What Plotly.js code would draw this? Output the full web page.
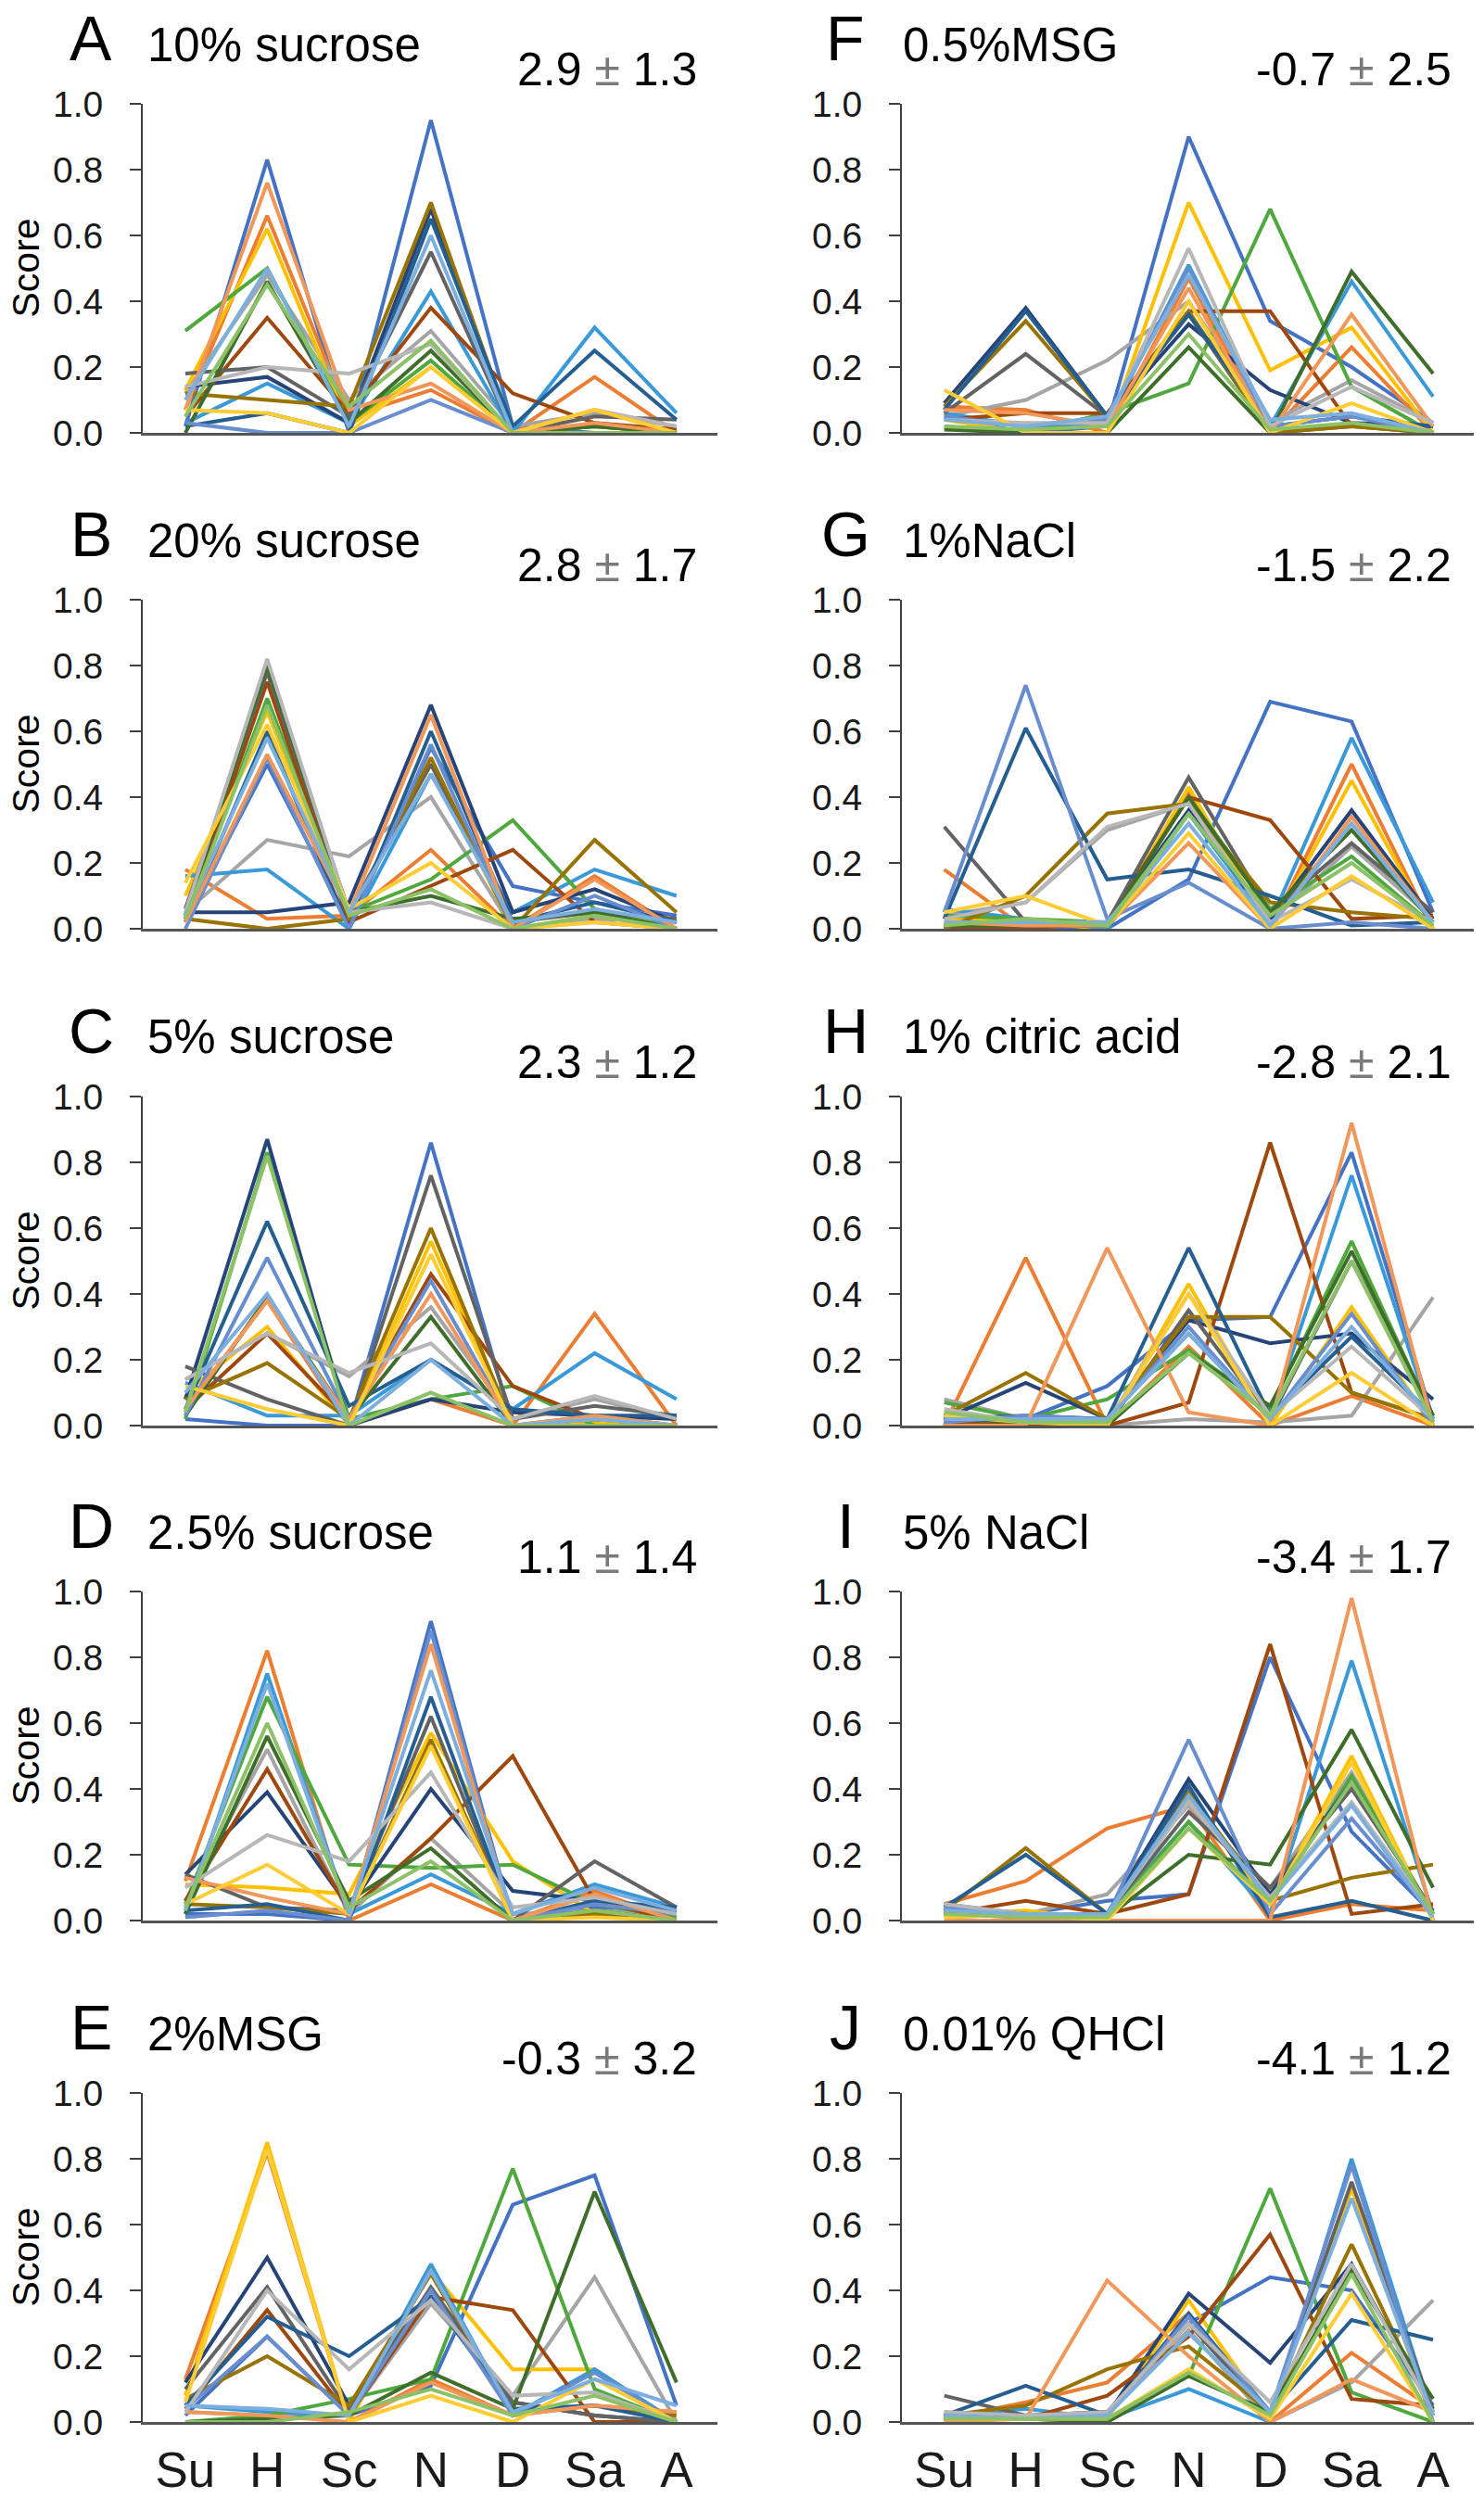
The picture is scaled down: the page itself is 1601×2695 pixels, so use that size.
<!DOCTYPE html>
<html><head><meta charset="utf-8">
<script src="https://cdn.plot.ly/plotly-3.0.1.min.js"></script>
<style>html,body{margin:0;padding:0;background:#fff}#chart{width:1601px;height:2695px}</style>
</head><body><div id="chart"></div>
<script>
const categories = ['Su','H','Sc','N','D','Sa','A'];
const panelLetters = ['A','B','C','D','E','F','G','H','I','J'];
const panelTitles = ['10% sucrose','20% sucrose','5% sucrose','2.5% sucrose','2%MSG','0.5%MSG','1%NaCl','1% citric acid','5% NaCl','0.01% QHCl'];
const panelMeans = ['2.9','2.8','2.3','1.1','-0.3','-0.7','-1.5','-2.8','-3.4','-4.1'];
const panelSDs = ['1.3','1.7','1.2','1.4','3.2','2.5','2.2','2.1','1.7','1.2'];
const seriesColors = ['#4472C4','#ED7D31','#A5A5A5','#FFC000','#3A9AD9','#4FA83D','#264478','#9E480E','#636363','#997300','#255E91','#3F6E2A','#698ED0','#F1975A','#B7B7B7','#FFCD33','#7CAFDD','#8CC168'];

const panelA = [
[0.02,0.83,0.00,0.95,0.02,0.00,0.00],
[0.07,0.66,0.05,0.13,0.00,0.17,0.00],
[0.12,0.48,0.10,0.31,0.02,0.06,0.02],
[0.13,0.62,0.02,0.20,0.00,0.07,0.00],
[0.03,0.15,0.03,0.43,0.00,0.32,0.06],
[0.31,0.50,0.03,0.22,0.00,0.02,0.00],
[0.14,0.17,0.03,0.68,0.00,0.00,0.00],
[0.05,0.35,0.06,0.38,0.12,0.03,0.01],
[0.18,0.20,0.05,0.55,0.00,0.05,0.04],
[0.12,0.10,0.08,0.70,0.00,0.02,0.00],
[0.02,0.06,0.00,0.65,0.02,0.25,0.04],
[0.00,0.46,0.03,0.25,0.00,0.02,0.00],
[0.03,0.00,0.00,0.10,0.00,0.00,0.00],
[0.07,0.76,0.07,0.15,0.00,0.03,0.00],
[0.14,0.20,0.18,0.27,0.00,0.07,0.02],
[0.07,0.06,0.00,0.20,0.00,0.07,0.00],
[0.10,0.50,0.02,0.60,0.00,0.00,0.00],
[0.05,0.45,0.08,0.28,0.00,0.00,0.00]];
const panelB = [
[0.02,0.50,0.02,0.55,0.13,0.08,0.04],
[0.18,0.03,0.04,0.24,0.00,0.16,0.00],
[0.05,0.27,0.22,0.40,0.00,0.03,0.02],
[0.10,0.66,0.04,0.50,0.00,0.04,0.00],
[0.16,0.18,0.00,0.47,0.05,0.18,0.10],
[0.03,0.70,0.05,0.15,0.33,0.06,0.00],
[0.05,0.05,0.08,0.68,0.05,0.12,0.02],
[0.03,0.75,0.02,0.13,0.24,0.02,0.00],
[0.06,0.78,0.05,0.50,0.02,0.05,0.03],
[0.03,0.00,0.03,0.52,0.00,0.27,0.05],
[0.02,0.60,0.00,0.60,0.02,0.08,0.02],
[0.04,0.80,0.05,0.10,0.03,0.05,0.00],
[0.00,0.52,0.00,0.56,0.00,0.10,0.00],
[0.02,0.53,0.05,0.65,0.00,0.15,0.00],
[0.05,0.82,0.05,0.08,0.00,0.02,0.00],
[0.14,0.62,0.06,0.20,0.00,0.02,0.00],
[0.04,0.58,0.05,0.47,0.02,0.06,0.02],
[0.03,0.68,0.04,0.12,0.00,0.04,0.00]];
const panelC = [
[0.02,0.00,0.00,0.86,0.00,0.03,0.00],
[0.05,0.38,0.00,0.08,0.00,0.34,0.00],
[0.14,0.28,0.15,0.36,0.02,0.08,0.02],
[0.10,0.30,0.00,0.56,0.00,0.01,0.00],
[0.13,0.03,0.03,0.20,0.05,0.22,0.08],
[0.02,0.83,0.02,0.08,0.12,0.00,0.00],
[0.08,0.87,0.00,0.08,0.04,0.03,0.02],
[0.05,0.28,0.02,0.46,0.12,0.02,0.00],
[0.18,0.08,0.00,0.76,0.02,0.06,0.03],
[0.08,0.19,0.02,0.60,0.00,0.02,0.00],
[0.05,0.62,0.06,0.20,0.05,0.03,0.03],
[0.03,0.39,0.02,0.33,0.00,0.02,0.00],
[0.03,0.51,0.02,0.44,0.00,0.02,0.00],
[0.05,0.38,0.02,0.40,0.00,0.03,0.00],
[0.14,0.28,0.16,0.25,0.02,0.09,0.02],
[0.12,0.05,0.00,0.52,0.00,0.02,0.00],
[0.10,0.40,0.00,0.20,0.00,0.02,0.00],
[0.04,0.82,0.00,0.10,0.00,0.00,0.00]];
const panelD = [
[0.02,0.02,0.00,0.91,0.00,0.04,0.03],
[0.12,0.82,0.00,0.11,0.00,0.09,0.00],
[0.06,0.52,0.02,0.25,0.02,0.03,0.02],
[0.11,0.10,0.08,0.57,0.18,0.02,0.00],
[0.02,0.75,0.02,0.14,0.02,0.11,0.04],
[0.05,0.68,0.17,0.16,0.17,0.05,0.01],
[0.14,0.39,0.04,0.40,0.09,0.06,0.03],
[0.06,0.46,0.03,0.25,0.50,0.06,0.00],
[0.14,0.04,0.03,0.62,0.00,0.18,0.04],
[0.05,0.04,0.02,0.55,0.00,0.02,0.00],
[0.03,0.05,0.00,0.68,0.00,0.06,0.04],
[0.02,0.56,0.06,0.22,0.00,0.03,0.00],
[0.01,0.03,0.00,0.88,0.00,0.05,0.02],
[0.13,0.07,0.02,0.84,0.00,0.08,0.00],
[0.10,0.26,0.18,0.45,0.04,0.07,0.02],
[0.05,0.17,0.02,0.53,0.00,0.01,0.00],
[0.03,0.72,0.02,0.76,0.02,0.10,0.03],
[0.04,0.60,0.04,0.18,0.00,0.03,0.00]];
const panelE = [
[0.02,0.26,0.02,0.11,0.66,0.75,0.05],
[0.13,0.82,0.00,0.13,0.02,0.05,0.03],
[0.03,0.02,0.02,0.36,0.08,0.44,0.00],
[0.08,0.85,0.00,0.46,0.16,0.16,0.00],
[0.05,0.03,0.02,0.48,0.02,0.16,0.00],
[0.00,0.02,0.07,0.13,0.77,0.10,0.00],
[0.12,0.50,0.05,0.40,0.06,0.02,0.00],
[0.04,0.34,0.02,0.38,0.34,0.00,0.00],
[0.10,0.41,0.03,0.41,0.06,0.02,0.00],
[0.07,0.20,0.05,0.45,0.03,0.05,0.02],
[0.05,0.32,0.20,0.38,0.04,0.05,0.00],
[0.00,0.01,0.02,0.15,0.04,0.70,0.12],
[0.04,0.26,0.02,0.40,0.02,0.15,0.00],
[0.03,0.02,0.00,0.12,0.02,0.05,0.03],
[0.03,0.40,0.16,0.37,0.08,0.09,0.00],
[0.06,0.83,0.00,0.08,0.00,0.13,0.00],
[0.05,0.04,0.02,0.46,0.03,0.13,0.05],
[0.00,0.00,0.03,0.10,0.02,0.08,0.00]];
const panelF = [
[0.05,0.00,0.02,0.90,0.34,0.20,0.03],
[0.08,0.07,0.00,0.47,0.00,0.26,0.00],
[0.05,0.10,0.22,0.40,0.03,0.16,0.03],
[0.04,0.00,0.00,0.70,0.19,0.32,0.00],
[0.06,0.02,0.03,0.51,0.02,0.46,0.11],
[0.02,0.00,0.06,0.15,0.68,0.14,0.00],
[0.09,0.38,0.05,0.33,0.13,0.03,0.02],
[0.04,0.06,0.06,0.37,0.37,0.02,0.00],
[0.06,0.24,0.05,0.36,0.00,0.02,0.02],
[0.08,0.34,0.05,0.37,0.00,0.02,0.00],
[0.07,0.37,0.05,0.36,0.02,0.05,0.02],
[0.01,0.00,0.00,0.26,0.00,0.49,0.18],
[0.05,0.02,0.04,0.50,0.02,0.05,0.00],
[0.07,0.06,0.02,0.44,0.00,0.36,0.02],
[0.04,0.03,0.03,0.56,0.02,0.14,0.03],
[0.13,0.00,0.00,0.40,0.00,0.09,0.00],
[0.04,0.02,0.05,0.48,0.04,0.06,0.00],
[0.02,0.01,0.02,0.30,0.01,0.03,0.00]];
const panelG = [
[0.02,0.00,0.00,0.15,0.69,0.63,0.05],
[0.18,0.00,0.02,0.41,0.00,0.50,0.00],
[0.04,0.08,0.30,0.38,0.02,0.25,0.03],
[0.03,0.02,0.00,0.43,0.00,0.45,0.00],
[0.06,0.03,0.00,0.35,0.02,0.58,0.08],
[0.04,0.03,0.02,0.40,0.06,0.22,0.01],
[0.01,0.02,0.02,0.36,0.03,0.36,0.03],
[0.00,0.00,0.02,0.40,0.33,0.03,0.04],
[0.31,0.02,0.02,0.46,0.05,0.26,0.05],
[0.00,0.10,0.35,0.38,0.08,0.05,0.03],
[0.03,0.61,0.15,0.18,0.10,0.01,0.02],
[0.01,0.01,0.01,0.40,0.05,0.30,0.02],
[0.05,0.74,0.03,0.14,0.00,0.02,0.00],
[0.02,0.01,0.01,0.26,0.00,0.34,0.02],
[0.03,0.08,0.31,0.38,0.02,0.15,0.02],
[0.05,0.10,0.01,0.29,0.00,0.16,0.00],
[0.02,0.02,0.02,0.32,0.01,0.32,0.02],
[0.01,0.03,0.01,0.35,0.04,0.20,0.01]];
const panelH = [
[0.02,0.02,0.12,0.32,0.33,0.83,0.02],
[0.00,0.51,0.00,0.24,0.00,0.09,0.00],
[0.08,0.02,0.00,0.02,0.01,0.03,0.39],
[0.04,0.01,0.00,0.43,0.00,0.36,0.00],
[0.02,0.02,0.02,0.28,0.02,0.76,0.01],
[0.07,0.02,0.08,0.23,0.05,0.56,0.02],
[0.02,0.13,0.02,0.32,0.25,0.28,0.08],
[0.01,0.00,0.00,0.07,0.86,0.10,0.02],
[0.03,0.02,0.00,0.35,0.02,0.50,0.03],
[0.03,0.16,0.02,0.33,0.33,0.10,0.02],
[0.02,0.03,0.02,0.54,0.03,0.27,0.03],
[0.02,0.01,0.00,0.22,0.06,0.53,0.03],
[0.01,0.03,0.02,0.30,0.02,0.34,0.00],
[0.00,0.00,0.54,0.04,0.00,0.92,0.00],
[0.05,0.01,0.01,0.40,0.03,0.24,0.02],
[0.03,0.01,0.00,0.40,0.00,0.16,0.00],
[0.02,0.02,0.02,0.28,0.02,0.30,0.02],
[0.04,0.01,0.01,0.22,0.03,0.50,0.01]];
const panelI = [
[0.03,0.02,0.06,0.08,0.80,0.27,0.02],
[0.05,0.12,0.28,0.35,0.00,0.05,0.03],
[0.03,0.02,0.08,0.35,0.10,0.45,0.02],
[0.02,0.03,0.00,0.37,0.05,0.50,0.00],
[0.05,0.02,0.02,0.30,0.02,0.79,0.02],
[0.01,0.02,0.01,0.30,0.05,0.44,0.02],
[0.03,0.02,0.02,0.43,0.08,0.42,0.02],
[0.02,0.06,0.02,0.08,0.84,0.02,0.05],
[0.04,0.02,0.02,0.33,0.10,0.40,0.03],
[0.03,0.22,0.02,0.39,0.06,0.13,0.17],
[0.04,0.20,0.02,0.41,0.01,0.06,0.00],
[0.02,0.01,0.01,0.20,0.17,0.58,0.10],
[0.04,0.02,0.01,0.55,0.02,0.31,0.02],
[0.00,0.00,0.00,0.00,0.00,0.98,0.00],
[0.05,0.02,0.02,0.36,0.07,0.36,0.02],
[0.01,0.02,0.00,0.28,0.05,0.48,0.00],
[0.03,0.02,0.02,0.38,0.06,0.35,0.01],
[0.02,0.01,0.01,0.28,0.06,0.42,0.02]];
const panelJ = [
[0.02,0.02,0.03,0.30,0.44,0.40,0.05],
[0.01,0.06,0.12,0.33,0.00,0.21,0.04],
[0.03,0.01,0.02,0.28,0.00,0.12,0.37],
[0.01,0.01,0.01,0.37,0.02,0.71,0.00],
[0.02,0.04,0.01,0.10,0.00,0.80,0.02],
[0.01,0.01,0.00,0.14,0.71,0.09,0.00],
[0.02,0.02,0.02,0.39,0.18,0.48,0.04],
[0.01,0.01,0.08,0.26,0.57,0.07,0.05],
[0.08,0.02,0.03,0.30,0.02,0.73,0.03],
[0.02,0.05,0.16,0.23,0.03,0.54,0.02],
[0.02,0.11,0.02,0.33,0.03,0.31,0.25],
[0.01,0.01,0.00,0.14,0.03,0.46,0.07],
[0.01,0.01,0.02,0.32,0.03,0.78,0.00],
[0.00,0.01,0.43,0.20,0.00,0.13,0.03],
[0.03,0.02,0.03,0.30,0.06,0.48,0.03],
[0.01,0.01,0.01,0.16,0.01,0.39,0.00],
[0.02,0.01,0.02,0.27,0.03,0.68,0.02],
[0.01,0.01,0.01,0.15,0.02,0.45,0.00]];

const panels = [panelA,panelB,panelC,panelD,panelE,panelF,panelG,panelH,panelI,panelJ];

const W = 1601, H = 2695;
const rowTop = [112, 647, 1183, 1717, 2258];
const plotH = 355;
const colX = [[154, 774], [973, 1590]];
const xRange = [-0.52, 6.5];
const font = 'Liberation Sans, Arial, sans-serif';

const traces = [];
const layout = {
  width: W, height: H, margin: {l:0, r:0, t:0, b:0},
  paper_bgcolor: '#fff', plot_bgcolor: 'rgba(0,0,0,0)',
  showlegend: false, hovermode: false,
  font: {family: font, color: '#1a1a1a'},
  annotations: []
};

panels.forEach((panel, i) => {
  const col = i < 5 ? 0 : 1;
  const row = i % 5;
  const n = i + 1;
  const xa = 'x' + (n === 1 ? '' : n), ya = 'y' + (n === 1 ? '' : n);
  const xKey = 'xaxis' + (n === 1 ? '' : n), yKey = 'yaxis' + (n === 1 ? '' : n);
  const top = rowTop[row], bot = top + plotH;
  const [xl, xr] = colX[col];
  panel.forEach((vals, s) => {
    traces.push({
      type: 'scatter', mode: 'lines', x: categories.map((c, k) => k), y: vals,
      xaxis: xa, yaxis: ya,
      line: {color: seriesColors[s % seriesColors.length], width: 4},
      hoverinfo: 'skip', cliponaxis: false
    });
  });
  layout[xKey] = {
    domain: [xl / W, xr / W], anchor: ya, range: xRange,
    showgrid: false, zeroline: false, showline: true, linecolor: '#555', linewidth: 2.5,
    ticks: '', tickvals: categories.map((c, k) => k), ticktext: categories,
    showticklabels: row === 4, tickfont: {size: 53, family: font, color: '#1a1a1a'},
    ticklabelstandoff: 4, fixedrange: true
  };
  layout[yKey] = {
    domain: [1 - bot / H, 1 - top / H], anchor: xa, range: [0, 1],
    showgrid: false, zeroline: false, showline: true, linecolor: '#404040', linewidth: 2,
    ticks: 'outside', ticklen: 12, tickwidth: 2, tickcolor: '#404040',
    tickvals: [0, 0.2, 0.4, 0.6, 0.8, 1.0], ticktext: ['0.0','0.2','0.4','0.6','0.8','1.0'],
    tickfont: {size: 39, family: font, color: '#1a1a1a'}, ticklabelstandoff: 21, fixedrange: true
  };
  const letterX = col === 0 ? 98 : 912;
  const titleX = col === 0 ? 157 : 972;
  const valueR = col === 0 ? 754 : 1568;
  layout.annotations.push({
    xref: 'paper', yref: 'paper', x: letterX / W, y: 1 - (top - 71) / H,
    xanchor: 'center', yanchor: 'middle', showarrow: false,
    text: panelLetters[i], font: {size: 68, family: font, color: '#000'}
  });
  layout.annotations.push({
    xref: 'paper', yref: 'paper', x: titleX / W, y: 1 - (top - 64) / H,
    xanchor: 'left', yanchor: 'middle', showarrow: false,
    text: panelTitles[i], font: {size: 51, family: font, color: '#000'}
  });
  layout.annotations.push({
    xref: 'paper', yref: 'paper', x: valueR / W, y: 1 - (top - 37) / H,
    xanchor: 'right', yanchor: 'middle', showarrow: false,
    text: panelMeans[i] + ' <span style="color:#7a7a7a">±</span> ' + panelSDs[i],
    font: {size: 50, family: font, color: '#000'}
  });
  if (col === 0) {
    layout.annotations.push({
      xref: 'paper', yref: 'paper', x: 27 / W, y: 1 - (top + plotH / 2) / H,
      xanchor: 'center', yanchor: 'middle', showarrow: false, textangle: -90,
      text: 'Score', font: {size: 41, family: font, color: '#000'}
    });
  }
});

Plotly.newPlot('chart', traces, layout, {staticPlot: true, displayModeBar: false});
</script>
</body></html>
